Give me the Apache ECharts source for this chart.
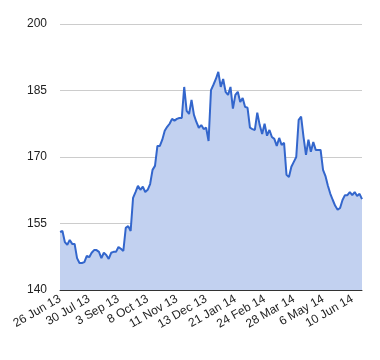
<!DOCTYPE html>
<html>
<head>
<meta charset="utf-8">
<script src="https://cdn.jsdelivr.net/npm/echarts@6/dist/echarts.min.js"></script>
<style>html,body{margin:0;padding:0;background:#fff}#c{width:380px;height:360px}</style>
</head>
<body>
<div id="c"></div>
<script>
// Tick labels, one every 12 data points (data sampled about every second trading day)
const tickLabels = ["26 Jun 13","30 Jul 13","3 Sep 13","8 Oct 13","11 Nov 13","13 Dec 13","21 Jan 14","24 Feb 14","28 Mar 14","6 May 14","10 Jun 14"];
const labelStep = 12;
// Price values
const values = [
153.1,153.3,150.8,150.2,151.3,150.4,150.4,147.2,146.1,146.1,146.3,147.7,
147.4,148.4,149.0,149.0,148.6,147.2,148.4,147.9,147.0,148.4,148.6,148.6,
149.7,149.3,148.8,154.0,154.4,153.3,160.8,162.1,163.5,162.6,163.3,162.1,
162.6,163.9,167.1,168.0,172.5,172.5,173.9,175.9,176.8,177.5,178.6,178.2,
178.6,178.8,178.8,185.8,180.4,179.7,182.9,179.5,177.9,176.6,177.2,176.3,
176.6,173.6,185.1,186.3,187.6,189.2,185.8,187.6,184.7,184.0,185.8,180.9,
184.0,184.7,182.4,183.3,181.3,181.1,176.6,176.3,176.1,180.0,177.2,175.2,
177.5,174.8,176.1,174.5,174.1,172.5,174.3,172.7,173.2,166.0,165.5,167.8,
168.9,170.0,178.4,179.1,174.5,170.5,173.9,171.2,173.4,171.6,171.6,171.6,
167.1,165.7,163.5,161.7,160.3,159.0,158.1,158.5,160.3,161.4,161.4,162.1,
161.4,162.1,161.2,161.7,160.5
];
const categories = values.map((v, i) => i);

const chart = echarts.init(document.getElementById('c'), null, {renderer: 'canvas'});
chart.setOption({
  animation: false,
  grid: {left: 60, right: 18, top: 24, bottom: 70, containLabel: false},
  xAxis: {
    type: 'category',
    data: categories,
    boundaryGap: false,
    axisLine: {lineStyle: {color: '#333', width: 1}},
    axisTick: {show: false},
    splitLine: {show: false},
    axisLabel: {
      interval: labelStep - 1,
      rotate: 30,
      margin: 8,
      color: '#222',
      fontFamily: 'Liberation Sans, Arial, sans-serif',
      fontSize: 12,
      formatter: (v, idx) => tickLabels[Math.round(idx / labelStep)] || ''
    }
  },
  yAxis: {
    type: 'value',
    min: 140, max: 200, interval: 15,
    axisLine: {show: false},
    axisTick: {show: false},
    splitLine: {lineStyle: {color: '#cccccc', width: 1}},
    axisLabel: {
      margin: 13,
      color: '#222',
      fontFamily: 'Liberation Sans, Arial, sans-serif',
      fontSize: 12
    }
  },
  series: [{
    type: 'line',
    data: values,
    symbol: 'none',
    smooth: false,
    lineStyle: {color: '#3366cc', width: 2},
    areaStyle: {color: '#c2d1f0', opacity: 1},
    z: 1
  }]
});
</script>
</body>
</html>
